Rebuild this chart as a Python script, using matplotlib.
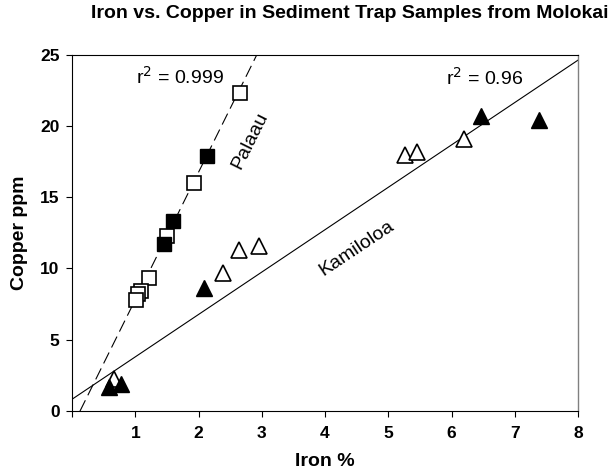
import numpy as np
import matplotlib
matplotlib.use("Agg")
import matplotlib.pyplot as plt

plt.rcParams['font.family'] = ['Liberation Sans', 'DejaVu Sans']

# Palaau samples (squares)
palaau_open_fe = [2.65, 1.93, 1.50, 1.21, 1.09, 1.05, 1.01]
palaau_open_cu = [22.3, 16.0, 12.25, 9.35, 8.4, 8.2, 7.75]
palaau_fill_fe = [2.13, 1.60, 1.45]
palaau_fill_cu = [17.9, 13.3, 11.7]

# Kamiloloa samples (triangles)
kam_open_fe = [0.67, 2.38, 2.64, 2.96, 5.26, 5.45, 6.19]
kam_open_cu = [2.2, 9.7, 11.3, 11.6, 18.0, 18.2, 19.1]
kam_fill_fe = [0.59, 0.77, 2.09, 6.46, 7.38]
kam_fill_cu = [1.64, 1.88, 8.6, 20.7, 20.4]

# regression fits (slope, intercept)
palaau_fit = (8.96, -1.16)
kam_fit = (2.98, 0.8)

x_ticks = [0, 1, 2, 3, 4, 5, 6, 7, 8]
x_labels = ['', '1', '2', '3', '4', '5', '6', '7', '8']
y_ticks = [0, 5, 10, 15, 20, 25]

fig = plt.figure(figsize=(6.13, 4.72), dpi=100)
ax = fig.add_axes([0.1175, 0.130, 0.8255, 0.7535])

xx = np.array([0.0, 8.0])
ax.plot(xx, palaau_fit[0] * xx + palaau_fit[1], color='black', lw=0.8,
        dashes=(11, 5), zorder=1)
ax.plot(xx, kam_fit[0] * xx + kam_fit[1], color='black', lw=0.8, zorder=1)

ax.plot(palaau_open_fe, palaau_open_cu, 's', ms=10, mfc='white', mec='black',
        mew=1.2, zorder=3)
ax.plot(palaau_fill_fe, palaau_fill_cu, 's', ms=10, mfc='black', mec='black',
        zorder=3)
ax.plot(kam_open_fe, kam_open_cu, '^', ms=11, mfc='white', mec='black',
        mew=1.2, zorder=3)
ax.plot(kam_fill_fe, kam_fill_cu, '^', ms=11, mfc='black', mec='black',
        zorder=3)

ax.text(1.01, 23.45, 'r$^2$ = 0.999', fontsize=14, va='center', ha='left')
ax.text(5.92, 23.4, 'r$^2$ = 0.96', fontsize=14, va='center', ha='left')
ax.text(2.81, 19.0, 'Palaau', fontsize=14, rotation=63.5, ha='center',
        va='center', rotation_mode='anchor')
ax.text(4.5, 11.4, 'Kamiloloa', fontsize=14, rotation=33.7, ha='center',
        va='center', rotation_mode='anchor')

ax.set_xlim(0, 8)
ax.set_ylim(0, 25)
ax.set_xticks(x_ticks)
ax.set_xticklabels(x_labels)
ax.set_yticks(y_ticks)
ax.tick_params(direction='out', length=4, width=0.8, labelsize=12.5)
ax.tick_params(axis='x', pad=7)
ax.tick_params(axis='y', pad=5)
for lab in ax.get_xticklabels() + ax.get_yticklabels():
    lab.set_fontweight('bold')
for s in ['left', 'bottom', 'top']:
    ax.spines[s].set_linewidth(0.8)
ax.spines['right'].set_color('#808080')
ax.spines['right'].set_linewidth(1.0)

ax.set_xlabel('Iron %', fontsize=14, fontweight='bold', labelpad=9)
ax.set_ylabel('Copper ppm', fontsize=14, fontweight='bold', labelpad=9)
fig.text(0.992, 1 - 14 / 472, 'Iron vs. Copper in Sediment Trap Samples from Molokai',
         fontsize=14, fontweight='bold', ha='right', va='center')

fig.savefig('out.png', dpi=100)
